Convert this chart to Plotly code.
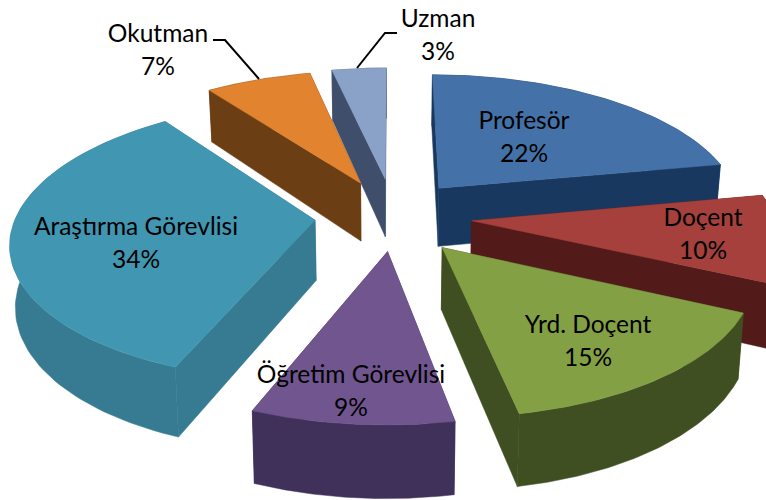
import numpy as np
import plotly.graph_objects as go

# --- data ---
categories = ["Profesör", "Doçent", "Yrd. Doçent", "Öğretim Görevlisi",
              "Araştırma Görevlisi", "Okutman", "Uzman"]
values = [22, 10, 15, 9, 34, 6.6, 3.4]

# --- style / layout ---
top_colors = ["#4472A8", "#A5403D", "#84A044", "#70558F", "#4197B1", "#E1832F", "#8AA2C8"]
wall_colors = ["#19385F", "#521B19", "#3F4F21", "#40315A", "#367B92", "#6B3E14", "#3F4E6A"]
pull = [0.27, 0.275, 0.28, 0.25, 0.24, 0.27, 0.28]
radius = [1.0, 1.0, 0.975, 0.985, 0.98, 1.0, 1.0]
nudge_x = [0, 0, 0, 7, 0, 5, 6]
paint_order = [6, 5, 4, 0, 1, 2, 3]
label_x = [524, 703, 588, 351, 136, 158, 438]
label_y = [123, 220, 327, 377, 229, 36, 21]
LINE_GAP = 33
CX, CY, A, B, K, DEPTH = 388, 216, 305, 138, 0.15, 60


def project(x, y):
    s = 1 / (1 + K * y)
    return CX + A * x * s, CY - B * y * s, s


fig = go.Figure()
edges = np.cumsum([0] + values) / sum(values) * 2 * np.pi

for i in paint_order:
    t0, t1 = edges[i], edges[i + 1]
    mid = (t0 + t1) / 2
    ox, oy = pull[i] * np.sin(mid), pull[i] * np.cos(mid)
    th = np.linspace(t0, t1, 80)
    xs = np.concatenate([[ox], ox + radius[i] * np.sin(th)])
    ys = np.concatenate([[oy], oy + radius[i] * np.cos(th)])
    px, py, s = project(xs, ys)
    px = px + nudge_x[i]
    bx = CX + (px - CX) * 0.985
    by = py + DEPTH * s

    def wall(idx):
        idx = np.array(idx)
        wx = np.concatenate([px[idx], bx[idx][::-1], px[idx][:1]])
        wy = np.concatenate([py[idx], by[idx][::-1], py[idx][:1]])
        fig.add_trace(go.Scatter(x=wx, y=wy, mode="lines", fill="toself",
                                 fillcolor=wall_colors[i],
                                 line=dict(color=wall_colors[i], width=0.5),
                                 hoverinfo="skip", showlegend=False))

    n = len(px)
    wall([0, 1])
    wall([0, n - 1])
    wall(list(range(1, n)))
    fig.add_trace(go.Scatter(x=np.append(px, px[0]), y=np.append(py, py[0]),
                             mode="lines", fill="toself", fillcolor=top_colors[i],
                             line=dict(color=top_colors[i], width=0.5),
                             name=categories[i], text=f"{categories[i]}: {round(values[i])}%",
                             hoverinfo="text", showlegend=False))

# leader lines
for lx, ly in [([213, 225, 259], [40, 40, 79]), ([397, 385, 357], [33, 33, 68])]:
    fig.add_trace(go.Scatter(x=lx, y=ly, mode="lines", line=dict(color="#000000", width=2),
                             hoverinfo="skip", showlegend=False))

# labels
fig.add_trace(go.Scatter(
    x=label_x + label_x,
    y=label_y + [v + LINE_GAP for v in label_y],
    mode="text",
    text=categories + [f"{round(p)}%" for p in values],
    textposition="middle center",
    textfont=dict(family="Lato, Carlito, sans-serif", size=24.5, color="#000000"),
    hoverinfo="skip", showlegend=False, cliponaxis=False))

fig.update_layout(
    width=766, height=500, autosize=False,
    margin=dict(l=0, r=0, t=0, b=0),
    paper_bgcolor="#FFFFFF", plot_bgcolor="#FFFFFF",
    xaxis=dict(range=[0, 766], visible=False, fixedrange=True),
    yaxis=dict(range=[500, 0], visible=False, fixedrange=True),
    showlegend=False,
)
fig.write_html("out.html", config={"displayModeBar": False},
               post_script="document.body.style.margin='0';")
